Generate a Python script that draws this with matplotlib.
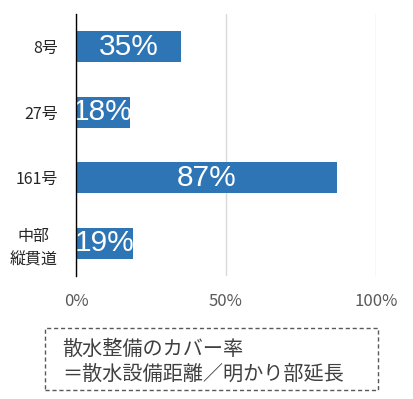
import matplotlib.pyplot as plt
from matplotlib.patches import Rectangle

plt.rcParams["font.family"] = ["Noto Sans CJK JP", "DejaVu Sans"]

ROUTES = ["8号", "27号", "161号", "中部\n縦貫道"]
COVERAGE = [35, 18, 87, 19]
XTICKS = [0, 50, 100]
NOTE = "散水整備のカバー率\n＝散水設備距離／明かり部延長"

BAR = "#2E75B6"
GRID = "#D9D9D9"

fig = plt.figure(figsize=(4.13, 3.99), dpi=100)
ax = fig.add_axes([0.184, 0.308, 0.726, 0.657])

y = list(range(len(ROUTES)))
bars = ax.barh(y, COVERAGE, height=0.47, color=BAR, zorder=3)
for b, v in zip(bars, COVERAGE):
    ax.text(b.get_width() / 2, b.get_y() + b.get_height() / 2, f"{v}%",
            color="white", fontsize=21.5, ha="center", va="center",
            family="Liberation Sans", zorder=4)

ax.set_xlim(0, 100)
ax.set_ylim(len(ROUTES) - 0.5, -0.5)
ax.set_xticks(XTICKS)
ax.set_xticklabels([f"{t}%" for t in XTICKS], color="#595959", fontsize=12)
ax.set_yticks(y)
ax.set_yticklabels(ROUTES, fontsize=11.5, color="#262626",
                   multialignment="center", linespacing=1.5)
ax.tick_params(axis="x", length=0, pad=12)
ax.tick_params(axis="y", length=0, pad=13)
ax.xaxis.grid(True, color=GRID, linewidth=1)
ax.set_axisbelow(True)
for s in ["top", "right", "bottom"]:
    ax.spines[s].set_visible(False)
ax.spines["left"].set_color("black")
ax.spines["left"].set_linewidth(1)
ax.spines["left"].set_zorder(5)

# note box
fig.patches.append(Rectangle((45 / 413, 1 - 390 / 399), 333 / 413, 62 / 399,
                             transform=fig.transFigure, fill=False,
                             edgecolor="#595959", linestyle=(0, (3, 2)), linewidth=1))
fig.text(62 / 413, 1 - 362 / 399, NOTE, fontsize=14.5, color="#404040",
         va="center", ha="left", linespacing=1.25)

fig.savefig("out.png", dpi=100)
